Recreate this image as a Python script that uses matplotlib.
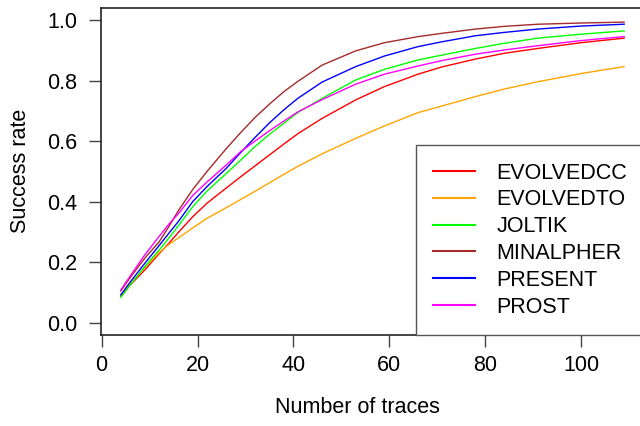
import matplotlib
matplotlib.use("Agg")
import matplotlib.pyplot as plt

plt.rcParams["font.family"] = ["Liberation Sans", "DejaVu Sans"]

traces = [4, 6, 9, 12, 14, 16, 19, 22, 26, 29, 32, 35, 38, 41, 46, 53, 59, 66, 71, 78, 84, 91, 100, 109]
evolvedcc = [0.088, 0.125, 0.174, 0.228, 0.262, 0.298, 0.350, 0.395, 0.445, 0.482, 0.518, 0.554, 0.590,
             0.625, 0.675, 0.736, 0.780, 0.821, 0.845, 0.871, 0.890, 0.906, 0.925, 0.940]
evolvedto = [0.090, 0.128, 0.182, 0.232, 0.258, 0.280, 0.313, 0.345, 0.380, 0.407, 0.434, 0.462, 0.490,
             0.517, 0.558, 0.609, 0.650, 0.694, 0.716, 0.747, 0.772, 0.796, 0.823, 0.846]
joltik = [0.084, 0.125, 0.185, 0.240, 0.279, 0.320, 0.383, 0.435, 0.493, 0.537, 0.582, 0.622, 0.659,
          0.695, 0.741, 0.802, 0.837, 0.868, 0.884, 0.906, 0.923, 0.940, 0.953, 0.964]
minalpher = [0.105, 0.150, 0.213, 0.267, 0.317, 0.370, 0.440, 0.500, 0.575, 0.628, 0.678, 0.722, 0.763,
             0.798, 0.851, 0.898, 0.925, 0.945, 0.956, 0.970, 0.979, 0.986, 0.990, 0.993]
present = [0.092, 0.135, 0.196, 0.255, 0.295, 0.334, 0.400, 0.450, 0.510, 0.562, 0.612, 0.660, 0.703,
           0.742, 0.795, 0.846, 0.881, 0.912, 0.928, 0.948, 0.959, 0.970, 0.980, 0.986]
prost = [0.108, 0.155, 0.224, 0.285, 0.325, 0.360, 0.420, 0.465, 0.521, 0.565, 0.600, 0.634, 0.666,
         0.697, 0.737, 0.788, 0.821, 0.848, 0.866, 0.887, 0.901, 0.915, 0.932, 0.945]

series = [
    ("EVOLVEDCC", evolvedcc, "#FF0000"),
    ("EVOLVEDTO", evolvedto, "#FFA500"),
    ("JOLTIK", joltik, "#00FF00"),
    ("MINALPHER", minalpher, "#A52A2A"),
    ("PRESENT", present, "#0000FF"),
    ("PROST", prost, "#FF00FF"),
]

fig = plt.figure(figsize=(6.4, 4.26), dpi=100)
ax = fig.add_axes([0.1573, 0.2141, 0.8494, 0.7674])

for name, vals, col in series:
    ax.plot(traces, vals, color=col, lw=1.0, label=name)

ax.set_xlim(-0.2, 113.2)
ax.set_ylim(-0.04, 1.04)
ax.set_xticks([0, 20, 40, 60, 80, 100])
ax.set_yticks([0.0, 0.2, 0.4, 0.6, 0.8, 1.0])
ax.set_yticklabels(["0.0", "0.2", "0.4", "0.6", "0.8", "1.0"])
ax.tick_params(direction="out", length=8.4, width=1.0, color="#444444",
               labelsize=15.5, pad=6.5)
ax.tick_params(axis="y", pad=8.5)
for sp in ax.spines.values():
    sp.set_color("#222222")
    sp.set_linewidth(1.2)

ax.set_xlabel("Number of traces", fontsize=15.5, va="center")
ax.xaxis.set_label_coords(0.473, -0.221)
ax.set_ylabel("Success rate", fontsize=15.5, va="center")
ax.yaxis.set_label_coords(-0.148, 0.5)

leg = ax.legend(loc="lower right", bbox_to_anchor=(1.0, 0.0), borderaxespad=0,
                fontsize=15.5, fancybox=False, framealpha=1, edgecolor="#555555",
                handlelength=1.95, handletextpad=1.0, borderpad=0.8,
                labelspacing=0.27)
leg.get_frame().set_linewidth(1.0)
for line in leg.get_lines():
    line.set_linewidth(1.5)

fig.savefig("out.png", dpi=100)
